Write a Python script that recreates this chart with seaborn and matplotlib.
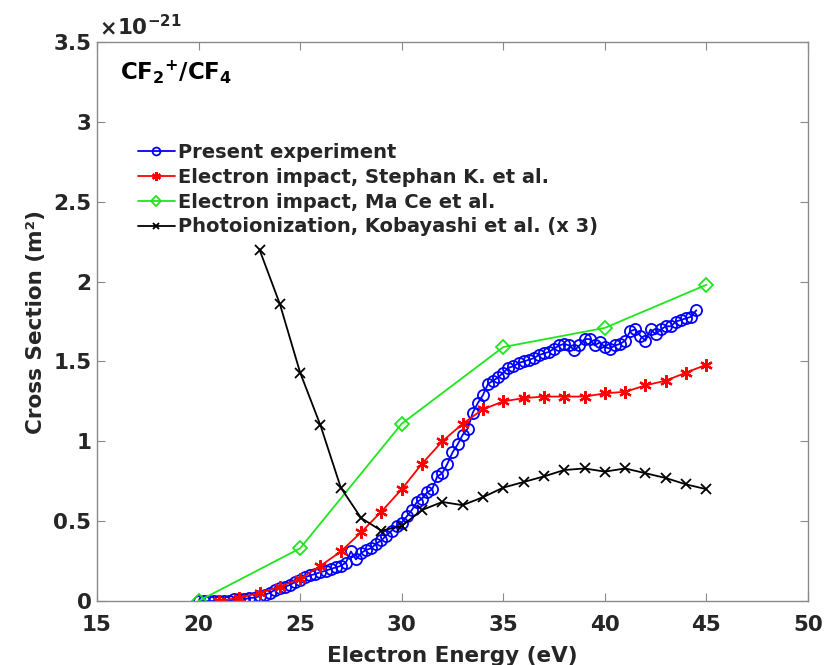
import numpy as np
import pandas as pd
import matplotlib
matplotlib.use("Agg")
import matplotlib.pyplot as plt
import seaborn as sns

# ---------------- data (cross sections in units of 1e-21 m^2) ----------------
present_x = [20.00, 20.25, 20.50, 20.75, 21.00, 21.25, 21.50, 21.75, 22.00, 22.25,
             22.50, 22.75, 23.00, 23.25, 23.50, 23.75, 24.00, 24.25, 24.50, 24.75,
             25.00, 25.25, 25.50, 25.75, 26.00, 26.25, 26.50, 26.75, 27.00, 27.25,
             27.50, 27.75, 28.00, 28.25, 28.50, 28.75, 29.00, 29.25, 29.50, 29.75,
             30.00, 30.25, 30.50, 30.75, 31.00, 31.25, 31.50, 31.75, 32.00, 32.25,
             32.50, 32.75, 33.00, 33.25, 33.50, 33.75, 34.00, 34.25, 34.50, 34.75,
             35.00, 35.25, 35.50, 35.75, 36.00, 36.25, 36.50, 36.75, 37.00, 37.25,
             37.50, 37.75, 38.00, 38.25, 38.50, 38.75, 39.00, 39.25, 39.50, 39.75,
             40.00, 40.25, 40.50, 40.75, 41.00, 41.25, 41.50, 41.75, 42.00, 42.25,
             42.50, 42.75, 43.00, 43.25, 43.50, 43.75, 44.00, 44.25, 44.50]
present_y = [0.00, 0.00, 0.00, 0.00, 0.00, 0.00, 0.00, 0.01, 0.01, 0.01,
             0.02, 0.02, 0.03, 0.04, 0.05, 0.07, 0.08, 0.09, 0.10, 0.12,
             0.13, 0.15, 0.16, 0.17, 0.18, 0.19, 0.20, 0.21, 0.22, 0.24,
             0.31, 0.26, 0.30, 0.32, 0.33, 0.36, 0.38, 0.41, 0.44, 0.47,
             0.49, 0.53, 0.57, 0.62, 0.64, 0.68, 0.70, 0.78, 0.80, 0.86,
             0.93, 0.98, 1.04, 1.08, 1.18, 1.24, 1.29, 1.36, 1.38, 1.40,
             1.43, 1.46, 1.47, 1.49, 1.50, 1.51, 1.52, 1.54, 1.55, 1.56,
             1.58, 1.60, 1.61, 1.60, 1.57, 1.60, 1.64, 1.64, 1.60, 1.62,
             1.59, 1.58, 1.60, 1.61, 1.63, 1.69, 1.70, 1.66, 1.63, 1.70,
             1.67, 1.70, 1.72, 1.72, 1.75, 1.76, 1.77, 1.78, 1.82]

stephan_x = [21, 22, 23, 24, 25, 26, 27, 28, 29, 30, 31, 32, 33,
             34, 35, 36, 37, 38, 39, 40, 41, 42, 43, 44, 45]
stephan_y = [0.00, 0.02, 0.05, 0.09, 0.14, 0.22, 0.31, 0.43, 0.56, 0.70, 0.86, 1.00, 1.11,
             1.20, 1.25, 1.27, 1.28, 1.28, 1.28, 1.30, 1.31, 1.35, 1.38, 1.43, 1.48]

mace_x = [20, 25, 30, 35, 40, 45]
mace_y = [0.00, 0.33, 1.11, 1.59, 1.71, 1.98]

koba_x = [23, 24, 25, 26, 27, 28, 29, 30, 31, 32, 33, 34,
          35, 36, 37, 38, 39, 40, 41, 42, 43, 44, 45]
koba_y = [2.20, 1.86, 1.43, 1.10, 0.71, 0.52, 0.44, 0.47, 0.57, 0.62, 0.60, 0.65,
          0.71, 0.745, 0.78, 0.82, 0.83, 0.81, 0.83, 0.80, 0.77, 0.73, 0.70]

labels = ["Present experiment",
          "Electron impact, Stephan K. et al.",
          "Electron impact, Ma Ce et al.",
          "Photoionization, Kobayashi et al. (x 3)"]

x_ticks = [15, 20, 25, 30, 35, 40, 45, 50]
y_ticks = [0, 0.5, 1, 1.5, 2, 2.5, 3, 3.5]
y_ticklabels = ["0", "0.5", "1", "1.5", "2", "2.5", "3", "3.5"]

# ---------------- style ----------------
sns.set_style("white")
plt.rcParams["font.family"] = ["DejaVu Sans"]
plt.rcParams["font.weight"] = "bold"
plt.rcParams["mathtext.fontset"] = "dejavusans"

W, H = 828, 665
fig = plt.figure(figsize=(W / 100, H / 100), dpi=100)
ax = fig.add_axes([97 / W, 1 - 601 / H, (808 - 97) / W, (601 - 42) / H])

lw = 1.3
green = "#1ee61e"
sns.lineplot(x=present_x, y=present_y, ax=ax, color="#0000ff", marker="o",
             markersize=8, markerfacecolor="none", markeredgecolor="#0000ff",
             markeredgewidth=1.3, linewidth=lw, label=labels[0], sort=False)
sns.lineplot(x=stephan_x, y=stephan_y, ax=ax, color="#ff0000", marker=(6, 2, 0),
             markersize=9, markeredgecolor="#ff0000", markeredgewidth=1.6,
             linewidth=lw, label=labels[1], sort=False)
sns.lineplot(x=mace_x, y=mace_y, ax=ax, color=green, marker="D",
             markersize=7, markerfacecolor="none", markeredgecolor=green,
             markeredgewidth=1.3, linewidth=lw, label=labels[2], sort=False)
sns.lineplot(x=koba_x, y=koba_y, ax=ax, color="black", marker="x",
             markersize=7, markeredgecolor="black", markeredgewidth=1.3,
             linewidth=lw, label=labels[3], sort=False)

ax.set_xlim(15, 50)
ax.set_ylim(0, 3.5)
ax.set_xticks(x_ticks)
ax.set_xticklabels([str(t) for t in x_ticks])
ax.set_yticks(y_ticks)
ax.set_yticklabels(y_ticklabels)

spine_col = "#8a8a8a"
for s in ax.spines.values():
    s.set_visible(True)
    s.set_color(spine_col)
    s.set_linewidth(1.0)
ax.tick_params(axis="both", which="both", direction="in", length=6, width=0.8,
               color=spine_col, top=True, right=True, bottom=True, left=True,
               labelsize=15.5, labelcolor="#262626")
ax.tick_params(axis="x", pad=10)
ax.tick_params(axis="y", pad=4)
for lab in ax.get_xticklabels() + ax.get_yticklabels():
    lab.set_fontweight("bold")

ax.set_xlabel("Electron Energy (eV)", fontsize=15.5, fontweight="bold",
              color="#262626", labelpad=8)
ax.set_ylabel("Cross Section (m²)", fontsize=15.5, fontweight="bold",
              color="#262626", labelpad=5)

# exponent label
fig.text(99 / W, 1 - 35 / H, r"$\times$", fontsize=15, color="#262626",
         ha="left", va="baseline")
fig.text(117 / W, 1 - 35 / H, r"$\mathbf{10^{-21}}$", fontsize=15.5,
         color="#262626", ha="left", va="baseline")

# species label
fig.text(120 / W, 1 - 80 / H, r"$\mathbf{CF_{2}{}^{+}/CF_{4}}$", fontsize=16.5,
         color="black", ha="left", va="baseline")

leg = ax.legend(loc="upper left", bbox_to_anchor=(138 / W, 1 - 143 / H),
                bbox_transform=fig.transFigure, frameon=False,
                prop={"size": 14, "weight": "bold"}, handlelength=1.9,
                handletextpad=0.15, labelspacing=0.3, borderpad=0,
                borderaxespad=0, markerscale=0.7)

fig.savefig("out.png", dpi=100)
